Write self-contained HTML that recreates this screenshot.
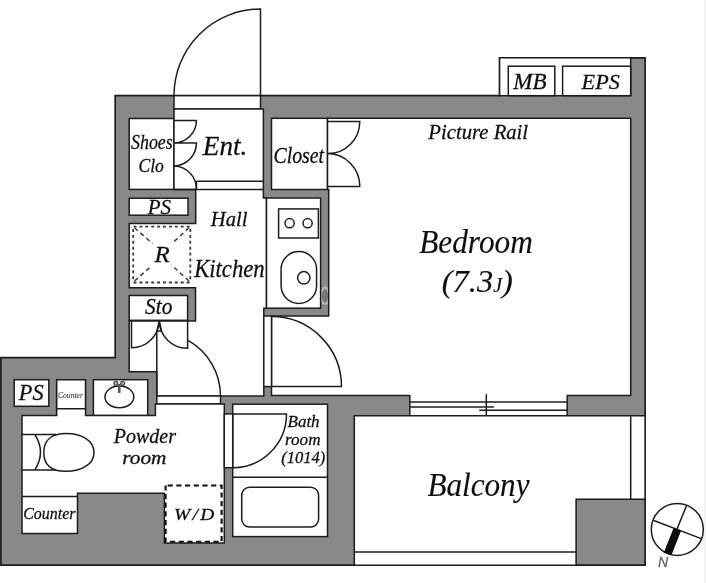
<!DOCTYPE html>
<html><head><meta charset="utf-8"><title>Floor plan</title>
<style>
html,body{margin:0;padding:0;background:#fff;}
body{width:706px;height:583px;overflow:hidden;}
svg{display:block;}
text{font-family:"Liberation Serif",serif;font-style:italic;fill:#111;stroke:#111;}
</style></head><body>
<svg width="706" height="583" viewBox="0 0 706 583">
<defs><filter id="soft" x="0" y="0" width="706" height="583" filterUnits="userSpaceOnUse"><feGaussianBlur stdDeviation="0.45"/></filter></defs>
<g filter="url(#soft)">
<rect x="-5" y="-5" width="716" height="593" fill="#fff"/>
<path d="M115.2,95.7 L499.6,95.7 L499.6,57.8 L645.1,57.8 L645.1,565.2 L0.9,565.2 L0.9,357.6 L115.2,357.6 Z" fill="#898989" stroke="#1e1e1e" stroke-width="1.7" />
<rect x="499.6" y="57.8" width="131.1" height="37.9" fill="#fff" stroke="#1e1e1e" stroke-width="1.5" />
<rect x="508.3" y="66.2" width="46.5" height="29.5" fill="#fff" stroke="#1e1e1e" stroke-width="1.5" />
<rect x="562.6" y="66.2" width="68.1" height="29.5" fill="#fff" stroke="#1e1e1e" stroke-width="1.5" />
<rect x="174" y="95.7" width="86.5" height="13.3" fill="#fff" stroke="#1e1e1e" stroke-width="1.5" />
<path d="M260.5,95.7 L260.5,9 A86.5,86.5 0 0 0 174,95.7" fill="none" stroke="#1e1e1e" stroke-width="1.5" />
<rect x="129.2" y="118.5" width="44.8" height="70.9" fill="#fff" stroke="#1e1e1e" stroke-width="1.5" />
<rect x="129.2" y="198.2" width="58.8" height="17.0" fill="#fff" stroke="#1e1e1e" stroke-width="1.5" />
<rect x="129.2" y="295.5" width="58.4" height="24.8" fill="#fff" stroke="#1e1e1e" stroke-width="1.5" />
<path d="M174,109 L263.4,109 L263.4,198 L266.5,198 L266.5,308.2 L263.8,308.2 L263.8,396 L156.8,396 L156.8,371.8 L129.2,371.8 L129.2,321 L195.5,321 L195.5,287.7 L129.2,287.7 L129.2,223.4 L195.7,223.4 L195.7,189.4 L174,189.4 Z" fill="#fff" stroke="#1e1e1e" stroke-width="1.5" />
<line x1="196.4" y1="181.2" x2="263.4" y2="181.2" stroke="#1e1e1e" stroke-width="1.5" />
<line x1="174" y1="189.4" x2="263.4" y2="189.4" stroke="#1e1e1e" stroke-width="1.5" />
<line x1="196.4" y1="181.2" x2="196.4" y2="189.4" stroke="#1e1e1e" stroke-width="1.5" />
<path d="M174,120.4 L196.4,120.4 A22.5,22.5 0 0 1 174,142.9 L196.4,142.9 A23,23 0 0 1 174,166 A23,23 0 0 1 196.4,189.4" fill="none" stroke="#1e1e1e" stroke-width="1.5" />
<rect x="271.5" y="118.3" width="56.0" height="71.2" fill="#fff" stroke="#1e1e1e" stroke-width="1.5" />
<path d="M327.5,118.3 L630.7,118.3 L630.7,395.6 L271.5,395.6 L271.5,316 L328.7,316 L328.7,189.5 L327.5,189.5 Z" fill="#fff" stroke="#1e1e1e" stroke-width="1.5" />
<path d="M327.5,121.5 L359.8,121.5 A32,32 0 0 1 327.8,153.6 A32.5,32.5 0 0 1 359.8,186.4 L327.5,186.4" fill="none" stroke="#1e1e1e" stroke-width="1.5" />
<rect x="263.8" y="316" width="7.7" height="70.6" fill="#fff" stroke="#1e1e1e" stroke-width="1.5" />
<path d="M271.5,386.6 L341.5,386.6 A70,70 0 0 0 271.5,316.6" fill="none" stroke="#1e1e1e" stroke-width="1.5" />
<rect x="266.5" y="198" width="54.1" height="110.2" fill="#fff" stroke="#1e1e1e" stroke-width="1.5" />
<rect x="278.6" y="208.9" width="39.8" height="29.1" fill="#fff" stroke="#1e1e1e" stroke-width="1.5" />
<circle cx="289.6" cy="223.2" r="4.6" fill="none" stroke="#1e1e1e" stroke-width="1.5"/>
<circle cx="307.6" cy="223.2" r="4.6" fill="none" stroke="#1e1e1e" stroke-width="1.5"/>
<rect x="281.1" y="251.5" width="35.5" height="52" rx="17.7" ry="17.7" fill="none" stroke="#1e1e1e" stroke-width="1.5"/>
<circle cx="303.8" cy="277.8" r="6.2" fill="none" stroke="#1e1e1e" stroke-width="1.5"/>
<line x1="133.5" y1="226.7" x2="190.6" y2="226.7" stroke="#3c3c3c" stroke-width="1.8" stroke-dasharray="3 2.9"/>
<line x1="133.5" y1="282.5" x2="190.6" y2="282.5" stroke="#3c3c3c" stroke-width="1.8" stroke-dasharray="3 2.9"/>
<line x1="133.2" y1="229" x2="133.2" y2="282" stroke="#3c3c3c" stroke-width="1.8" stroke-dasharray="3 2.9"/>
<line x1="190.3" y1="229" x2="190.3" y2="282" stroke="#3c3c3c" stroke-width="1.8" stroke-dasharray="3 2.9"/>
<line x1="134.5" y1="227.8" x2="152.5" y2="243.5" stroke="#3c3c3c" stroke-width="1.5" stroke-dasharray="4.4 3.4"/>
<line x1="189" y1="227.8" x2="172.5" y2="243" stroke="#3c3c3c" stroke-width="1.5" stroke-dasharray="4.4 3.4"/>
<line x1="134.5" y1="281" x2="152" y2="265.5" stroke="#3c3c3c" stroke-width="1.5" stroke-dasharray="4.4 3.4"/>
<line x1="189" y1="281" x2="171.5" y2="265" stroke="#3c3c3c" stroke-width="1.5" stroke-dasharray="4.4 3.4"/>
<path d="M131.5,320.3 L131.5,347.8 A27.6,27.6 0 0 0 159.2,320.3 A28,28 0 0 0 187.6,348.2 L187.6,320.3" fill="none" stroke="#1e1e1e" stroke-width="1.5" />
<path d="M157,331 L159.2,320.8 L161.6,331 Z" fill="none" stroke="#1e1e1e" stroke-width="1.5" />
<line x1="156.8" y1="331" x2="156.8" y2="404" stroke="#1e1e1e" stroke-width="1.5" />
<rect x="156.8" y="396" width="63.7" height="8" fill="#fff" stroke="#1e1e1e" stroke-width="1.5" />
<path d="M187.6,340.2 A63.8,63.8 0 0 1 220.5,396" fill="none" stroke="#1e1e1e" stroke-width="1.5" />
<rect x="409.8" y="394" width="157.4" height="21.8" fill="#fff" stroke="none" stroke-width="1.5" />
<line x1="409.8" y1="395" x2="409.8" y2="415.8" stroke="#1e1e1e" stroke-width="1.5" />
<line x1="567.2" y1="395" x2="567.2" y2="415.8" stroke="#1e1e1e" stroke-width="1.5" />
<line x1="409.8" y1="402.1" x2="567.2" y2="402.1" stroke="#1e1e1e" stroke-width="1.5" />
<line x1="409.8" y1="407.1" x2="493.8" y2="407.1" stroke="#1e1e1e" stroke-width="1.5" />
<line x1="479.2" y1="410.3" x2="567.2" y2="410.3" stroke="#1e1e1e" stroke-width="1.5" />
<line x1="486.3" y1="394.2" x2="486.3" y2="422.4" stroke="#1e1e1e" stroke-width="1.5" />
<path d="M354.3,415.8 L645.1,415.8 L645.1,499.3 L576.1,499.3 L576.1,565.2 L354.3,565.2 Z" fill="#fff" stroke="#1e1e1e" stroke-width="1.5" />
<line x1="630.7" y1="415.8" x2="630.7" y2="499.3" stroke="#1e1e1e" stroke-width="1.5" />
<line x1="354.3" y1="552" x2="576.1" y2="552" stroke="#1e1e1e" stroke-width="1.5" />
<rect x="14.2" y="379.7" width="34.6" height="26.6" fill="#fff" stroke="#1e1e1e" stroke-width="1.5" />
<rect x="93.4" y="379.7" width="54.3" height="35.8" fill="#fff" stroke="#1e1e1e" stroke-width="1.5" />
<path d="M22,415.4 L155.4,415.4 L155.4,404 L224.3,404 L224.3,542.9 L164.4,542.9 L164.4,493.2 L77.5,493.2 L77.5,533.5 L22,533.5 Z" fill="#fff" stroke="#1e1e1e" stroke-width="1.5" />
<line x1="22" y1="496.6" x2="77.5" y2="496.6" stroke="#1e1e1e" stroke-width="1.5" />
<rect x="57.35" y="379.7" width="27.5" height="37.9" fill="#fff" stroke="none" stroke-width="1.5" />
<path d="M56.6,415.4 L56.6,379.7 L85.6,379.7 L85.6,415.4 M56.6,408.8 L85.6,408.8" fill="none" stroke="#1e1e1e" stroke-width="1.5" />
<rect x="165.6" y="485.5" width="56.0" height="56.2" fill="#fff" stroke="#111" stroke-width="2.1" stroke-dasharray="5.2 3.5" stroke-dashoffset="-2"/>
<rect x="232.7" y="404.2" width="94.8" height="132.4" fill="#fff" stroke="#1e1e1e" stroke-width="1.5" />
<line x1="232.7" y1="477.3" x2="327.5" y2="477.3" stroke="#1e1e1e" stroke-width="1.5" />
<rect x="224.3" y="413.9" width="8.4" height="53.8" fill="#fff" stroke="#1e1e1e" stroke-width="1.5" />
<path d="M232.7,413.9 L286.5,413.9 A53.8,53.8 0 0 1 232.7,467.7" fill="none" stroke="#1e1e1e" stroke-width="1.5" />
<rect x="241.7" y="487.2" width="76.9" height="39.8" rx="8" ry="8" fill="none" stroke="#1e1e1e" stroke-width="1.5"/>
<path d="M21.9,434.4 L56,434.4 M21.9,470 L56,470" fill="none" stroke="#1e1e1e" stroke-width="1.5" />
<path d="M34.8,434.4 Q46.2,452.2 34.8,470" fill="none" stroke="#1e1e1e" stroke-width="1.5" />
<path d="M43.8,452.4 C43.8,440 52,433.6 66,433.6 C82,433.6 94,441 94,452.4 C94,464 82,471.3 66,471.3 C52,471.3 43.8,465 43.8,452.4 Z" fill="#fff" stroke="#1e1e1e" stroke-width="1.5" />
<ellipse cx="119.4" cy="396.9" rx="14.4" ry="10.8" fill="#fff" stroke="#1e1e1e" stroke-width="1.5"/>
<path d="M119.2,384 L119.2,393" fill="none" stroke="#555" stroke-width="2.6" />
<circle cx="115.9" cy="383.4" r="2" fill="#aaa" stroke="#555" stroke-width="1.2"/>
<circle cx="122.6" cy="383.4" r="2" fill="#aaa" stroke="#555" stroke-width="1.2"/>
<rect x="704.3" y="0" width="1.7" height="583" fill="#f1f1f1" stroke="none" stroke-width="1.5" />
<clipPath id="wm"><rect x="321.4" y="280" width="6.5" height="30"/></clipPath><ellipse cx="325" cy="295.8" rx="4.3" ry="8" fill="rgba(0,0,0,0.12)" stroke="rgba(255,255,255,0.42)" stroke-width="2.4" clip-path="url(#wm)"/>
<circle cx="677.3" cy="529.4" r="26" fill="#fff" stroke="#1e1e1e" stroke-width="1.5"/>
<line x1="686.7" y1="505.2" x2="667" y2="553.6" stroke="#1e1e1e" stroke-width="1.5" />
<line x1="653.2" y1="520.2" x2="701.2" y2="538.6" stroke="#1e1e1e" stroke-width="1.5" />
<path d="M677.3,529.4 L667.6,554" fill="none" stroke="#0a0a0a" stroke-width="8" />
<text transform="translate(131.02,148.99) scale(0.8647,1)" font-size="20.70" stroke-width="0.28" >Shoes</text>
<text transform="translate(138.44,172.41) scale(0.9279,1)" font-size="19.00" stroke-width="0.28" >Clo</text>
<text transform="translate(202.87,155.03) scale(1.0078,1)" font-size="26.97" stroke-width="0.28" >Ent.</text>
<text transform="translate(147.80,213.78) scale(0.9913,1)" font-size="21.19" stroke-width="0.28" >PS</text>
<text transform="translate(210.81,225.69) scale(0.9861,1)" font-size="20.86" stroke-width="0.28" >Hall</text>
<text transform="translate(154.60,261.90) scale(1.0869,1)" font-size="22.92" stroke-width="0.28" >R</text>
<text transform="translate(194.13,277.36) scale(0.9332,1)" font-size="24.29" stroke-width="0.28" >Kitchen</text>
<text transform="translate(145.09,314.15) scale(0.9482,1)" font-size="22.54" stroke-width="0.28" >Sto</text>
<text transform="translate(273.41,162.67) scale(0.8521,1)" font-size="23.29" stroke-width="0.28" >Closet</text>
<text transform="translate(513.23,89.40) scale(1.0204,1)" font-size="22.62" stroke-width="0.28" >MB</text>
<text transform="translate(581.62,88.96) scale(1.0102,1)" font-size="21.94" stroke-width="0.28" >EPS</text>
<text transform="translate(428.30,139.09) scale(0.9861,1)" font-size="21.00" stroke-width="0.28" >Picture Rail</text>
<text transform="translate(419.19,252.66) scale(0.9171,1)" font-size="34.14" stroke-width="0.15" >Bedroom</text>
<text transform="translate(441.80,292.06) scale(0.9968,1)" font-size="32.56" stroke-width="0.15" >(7.3<tspan font-size="20.18">J</tspan>)</text>
<text transform="translate(427.39,496.16) scale(0.9174,1)" font-size="34.00" stroke-width="0.15" >Balcony</text>
<text transform="translate(113.80,443.49) scale(0.9396,1)" font-size="21.29" stroke-width="0.28" >Powder</text>
<text transform="translate(122.25,464.30) scale(1.0765,1)" font-size="19.79" stroke-width="0.28" >room</text>
<text transform="translate(173.94,519.64) scale(1.0978,1)" font-size="17.76" stroke-width="0.28" letter-spacing="2.13">W/D</text>
<text transform="translate(287.53,426.83) scale(0.9997,1)" font-size="17.00" stroke-width="0.28" >Bath</text>
<text transform="translate(285.01,444.72) scale(0.9792,1)" font-size="17.50" stroke-width="0.28" >room</text>
<text transform="translate(281.14,462.84) scale(0.9517,1)" font-size="17.44" stroke-width="0.28" >(1014)</text>
<text transform="translate(18.80,400.04) scale(0.9763,1)" font-size="22.84" stroke-width="0.28" >PS</text>
<text transform="translate(57.94,397.51) scale(0.8404,1)" font-size="9.09" stroke-width="0.1" style="fill:#3a3a3a;stroke:#3a3a3a">Counter</text>
<text transform="translate(23.14,519.33) scale(0.9179,1)" font-size="17.42" stroke-width="0.28" >Counter</text>
<text transform="translate(657.88,566.50) scale(0.9604,1)" font-size="14.64" stroke-width="0.28" font-family="Liberation Sans, sans-serif" style="font-family:'Liberation Sans',sans-serif;fill:#666;stroke:#666">N</text>
</g>
</svg>
</body></html>
